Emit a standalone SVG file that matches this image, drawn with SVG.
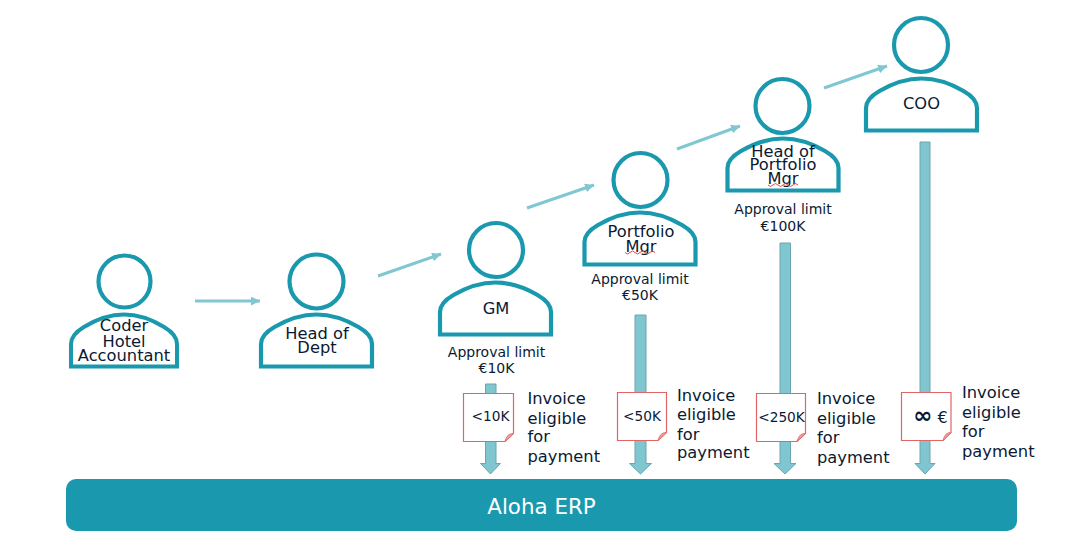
<svg xmlns="http://www.w3.org/2000/svg" xmlns:xlink="http://www.w3.org/1999/xlink" width="1075" height="547" viewBox="0 0 1075 547">
<style>
text{font-family:"DejaVu Sans",Verdana,sans-serif;fill:#0b1a33;text-anchor:middle}
.head,.body{fill:#fff;stroke:#1a99ae;stroke-width:4.2}
.name{font-size:16.3px}
.limit{font-size:14px}
.note{fill:#fff;stroke:#e06666;stroke-width:1.2}
.fold{fill:#eda3a3;stroke:#e06666;stroke-width:.8}
.notetxt{font-size:13.7px}
.inv{font-size:16.3px;text-anchor:start}
.flow{fill:none;stroke:#80c7d2;stroke-width:3}
.block{fill:#80c6d0;stroke:#6ba5ae;stroke-width:1}
.squig{fill:none;stroke:#e8443a;stroke-width:1}
</style>
<defs>
<marker id="ah" markerUnits="userSpaceOnUse" markerWidth="10" markerHeight="9" refX="9" refY="4.500" orient="auto"><path d="M0 0L9 4.500L0 9Z" fill="#80c7d2"/></marker>
<path id="bodyShape" d="M-55.500-1.500V-24C-55.500-32-49-37-42-41C-30-48-15-53.500 0-53.500C15-53.500 30-48 42-41C49-37 55.500-32 55.500-24V-1.500Z"/>
</defs>
<g id="connectors">
<path class="flow" marker-end="url(#ah)" d="M195 301H260"/>
<path class="flow" marker-end="url(#ah)" d="M378 276L441 254"/>
<path class="flow" marker-end="url(#ah)" d="M527 208L594 185"/>
<path class="flow" marker-end="url(#ah)" d="M677 149L740 126"/>
<path class="flow" marker-end="url(#ah)" d="M824 88L887 66"/>
<path class="block" d="M485.500 384H496V463.500H500.500L490.500 474L480.500 463.500H485.500Z"/>
<path class="block" d="M635 315H646V463.500H651.500L640.500 474L629.500 463.500H635Z"/>
<path class="block" d="M780 243H790.500V463.500H796L785 474L774 463.500H780Z"/>
<path class="block" d="M920 142H930V463.500H935L925 474L915 463.500H920Z"/>
</g>
<g id="node-coder">
<circle class="head" cx="124.500" cy="281.500" r="26"/>
<use xlink:href="#bodyShape" class="body" transform="translate(124 368) scale(.955 1)"/>
<text class="name" x="124" y="331">Coder</text>
<text class="name" x="124" y="347">Hotel</text>
<text class="name" x="124" y="361">Accountant</text>
</g>
<g id="node-head-of-dept">
<circle class="head" cx="316.500" cy="281.500" r="27"/>
<use xlink:href="#bodyShape" class="body" transform="translate(316.500 368)"/>
<text class="name" x="317" y="339">Head of</text>
<text class="name" x="317" y="353">Dept</text>
</g>
<g id="node-gm">
<circle class="head" cx="496" cy="250" r="27"/>
<use xlink:href="#bodyShape" class="body" transform="translate(495.500 336)"/>
<text class="name" x="496" y="314">GM</text>
<text class="limit" x="496.500" y="357">Approval limit</text>
<text class="limit" x="496.500" y="373">€10K</text>
</g>
<g id="node-portfolio-mgr">
<circle class="head" cx="640.500" cy="180" r="27"/>
<use xlink:href="#bodyShape" class="body" transform="translate(640 266)"/>
<text class="name" x="641" y="237">Portfolio</text>
<text class="name" x="641" y="252">Mgr</text>
<path class="squig" d="M625 252.500q2.500 3 5 0t5 0t5 0t5 0t5 0t5 0"/>
<text class="limit" x="640" y="284">Approval limit</text>
<text class="limit" x="640" y="300">€50K</text>
</g>
<g id="node-head-of-portfolio-mgr">
<circle class="head" cx="782.500" cy="106" r="27"/>
<use xlink:href="#bodyShape" class="body" transform="translate(783 192)"/>
<text class="name" x="783" y="157">Head of</text>
<text class="name" x="783" y="170">Portfolio</text>
<text class="name" x="783" y="184">Mgr</text>
<path class="squig" d="M768 185q2.500 3 5 0t5 0t5 0t5 0t5 0t5 0"/>
<text class="limit" x="783" y="214">Approval limit</text>
<text class="limit" x="783" y="231">€100K</text>
</g>
<g id="node-coo">
<circle class="head" cx="921" cy="45" r="27"/>
<use xlink:href="#bodyShape" class="body" transform="translate(921.500 132)"/>
<text class="name" x="921.500" y="109">COO</text>
</g>
<g id="note-10k">
<path class="note" d="M463.500 393.500H513.500V433.500L505 441.500H463.500Z"/>
<path class="fold" d="M505 441.500L513.500 433.500Q507 433 505 441.500Z"/>
<text class="notetxt" x="490.500" y="421">&lt;10K</text>
<text class="inv" x="527.500" y="404">Invoice</text>
<text class="inv" x="527.500" y="424">eligible</text>
<text class="inv" x="527.500" y="442">for</text>
<text class="inv" x="527.500" y="462">payment</text>
</g>
<g id="note-50k">
<path class="note" d="M617.500 392.500H666.500V432.500L658 440.500H617.500Z"/>
<path class="fold" d="M658 440.500L666.500 432.500Q660 432 658 440.500Z"/>
<text class="notetxt" x="642" y="421">&lt;50K</text>
<text class="inv" x="677" y="401">Invoice</text>
<text class="inv" x="677" y="420">eligible</text>
<text class="inv" x="677" y="440">for</text>
<text class="inv" x="677" y="458">payment</text>
</g>
<g id="note-250k">
<path class="note" d="M756.500 393.500H805.500V433.500L797 441.500H756.500Z"/>
<path class="fold" d="M797 441.500L805.500 433.500Q799 433 797 441.500Z"/>
<text class="notetxt" x="781.500" y="422">&lt;250K</text>
<text class="inv" x="817" y="404">Invoice</text>
<text class="inv" x="817" y="424">eligible</text>
<text class="inv" x="817" y="443">for</text>
<text class="inv" x="817" y="463">payment</text>
</g>
<g id="note-inf">
<path class="note" d="M901.500 392.500H951V432.500L943 440.500H901.500Z"/>
<path class="fold" d="M943 440.500L951 432.500Q945 432 943 440.500Z"/>
<text x="930.500" y="423" style="font-size:16px"><tspan style="font-size:23px;font-weight:bold">∞</tspan> €</text>
<text class="inv" x="962" y="398">Invoice</text>
<text class="inv" x="962" y="418">eligible</text>
<text class="inv" x="962" y="437">for</text>
<text class="inv" x="962" y="457">payment</text>
</g>
<g id="node-erp">
<rect x="66" y="479" width="951" height="52" rx="10" fill="#1a99ae"/>
<text x="541.500" y="514" style="font-size:21.400px;fill:#fff">Aloha ERP</text>
</g>
</svg>
